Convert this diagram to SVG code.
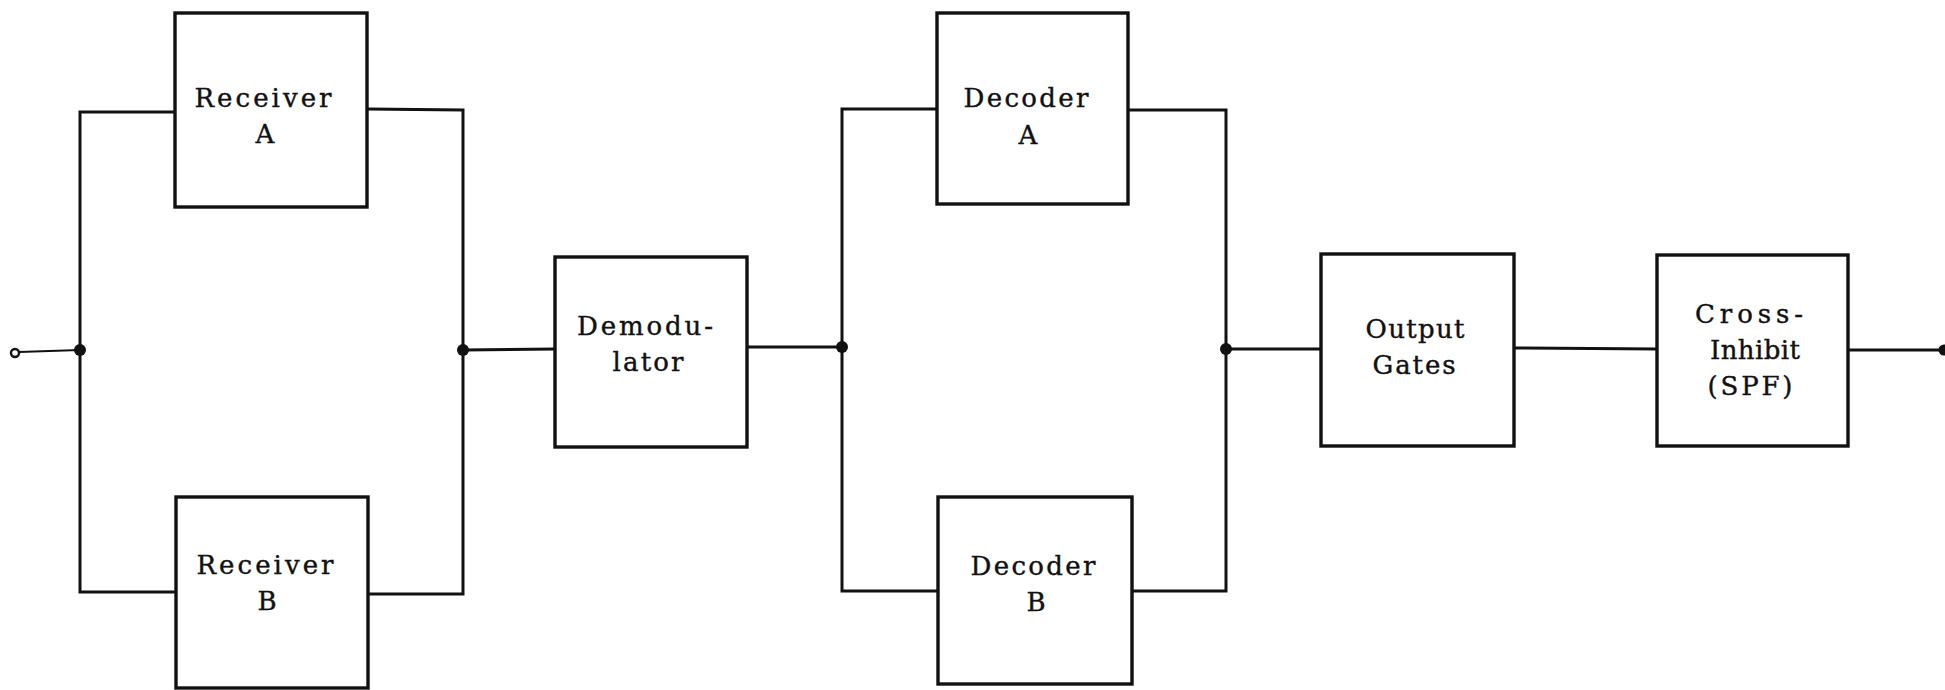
<svg xmlns="http://www.w3.org/2000/svg" width="1945" height="690" viewBox="0 0 1945 690">
<style>
.box{fill:#fff;stroke:#111;stroke-width:3.4}
.wire{fill:none;stroke:#111;stroke-width:3}
.thin{fill:none;stroke:#111;stroke-width:1.8}
.dot{fill:#111}
.lbl{font-family:"DejaVu Serif","Liberation Serif",serif;font-size:26px;fill:#111;stroke:#111;stroke-width:0.4;text-anchor:middle}
</style>
<rect width="1945" height="690" fill="#fff"/>
<g id="connectors">
<circle cx="15" cy="353" r="4" fill="#fff" stroke="#111" stroke-width="2.4"/>
<line class="thin" x1="19" y1="352" x2="80" y2="350"/>
<polyline class="wire" points="175,112 80,112 80,592 176,592"/>
<polyline class="wire" points="367,109 463,110 463,594 368,594"/>
<line class="wire" x1="463" y1="350" x2="555" y2="349"/>
<line class="wire" x1="747" y1="347" x2="842" y2="347"/>
<polyline class="wire" points="937,109 842,109 842,591 938,591"/>
<polyline class="wire" points="1128,110 1226,110 1226,591 1132,591"/>
<line class="wire" x1="1226" y1="349" x2="1321" y2="349"/>
<line class="wire" x1="1514" y1="348" x2="1657" y2="349"/>
<line class="wire" x1="1848" y1="350" x2="1945" y2="350"/>
<circle class="dot" cx="80" cy="350" r="6"/>
<circle class="dot" cx="463" cy="350" r="6"/>
<circle class="dot" cx="842" cy="347" r="6"/>
<circle class="dot" cx="1226" cy="349" r="6"/>
<circle class="dot" cx="1944" cy="350" r="5.5"/>
</g>
<g id="receiverA">
<rect class="box" x="175" y="13" width="192" height="194"/>
<text class="lbl" x="263" y="107" textLength="137" lengthAdjust="spacing">Receiver</text>
<text class="lbl" x="265" y="143">A</text>
</g>
<g id="receiverB">
<rect class="box" x="176" y="497" width="192" height="191"/>
<text class="lbl" x="265" y="574" textLength="137" lengthAdjust="spacing">Receiver</text>
<text class="lbl" x="267" y="610">B</text>
</g>
<g id="demodulator">
<rect class="box" x="555" y="257" width="192" height="190"/>
<text class="lbl" x="645" y="335" textLength="136" lengthAdjust="spacing">Demodu-</text>
<text class="lbl" x="648" y="371" textLength="71" lengthAdjust="spacing">lator</text>
</g>
<g id="decoderA">
<rect class="box" x="937" y="13" width="191" height="191"/>
<text class="lbl" x="1026" y="107" textLength="125" lengthAdjust="spacing">Decoder</text>
<text class="lbl" x="1028" y="144">A</text>
</g>
<g id="decoderB">
<rect class="box" x="938" y="497" width="194" height="187"/>
<text class="lbl" x="1033" y="575" textLength="125" lengthAdjust="spacing">Decoder</text>
<text class="lbl" x="1036" y="611">B</text>
</g>
<g id="outputGates">
<rect class="box" x="1321" y="254" width="193" height="192"/>
<text class="lbl" x="1415" y="338" textLength="99" lengthAdjust="spacing">Output</text>
<text class="lbl" x="1414" y="374" textLength="83" lengthAdjust="spacing">Gates</text>
</g>
<g id="crossInhibit">
<rect class="box" x="1657" y="255" width="191" height="191"/>
<text class="lbl" x="1749" y="323" textLength="108" lengthAdjust="spacing">Cross-</text>
<text class="lbl" x="1755" y="359" textLength="90" lengthAdjust="spacing">Inhibit</text>
<text class="lbl" x="1750" y="395" textLength="85" lengthAdjust="spacing">(SPF)</text>
</g>
</svg>
